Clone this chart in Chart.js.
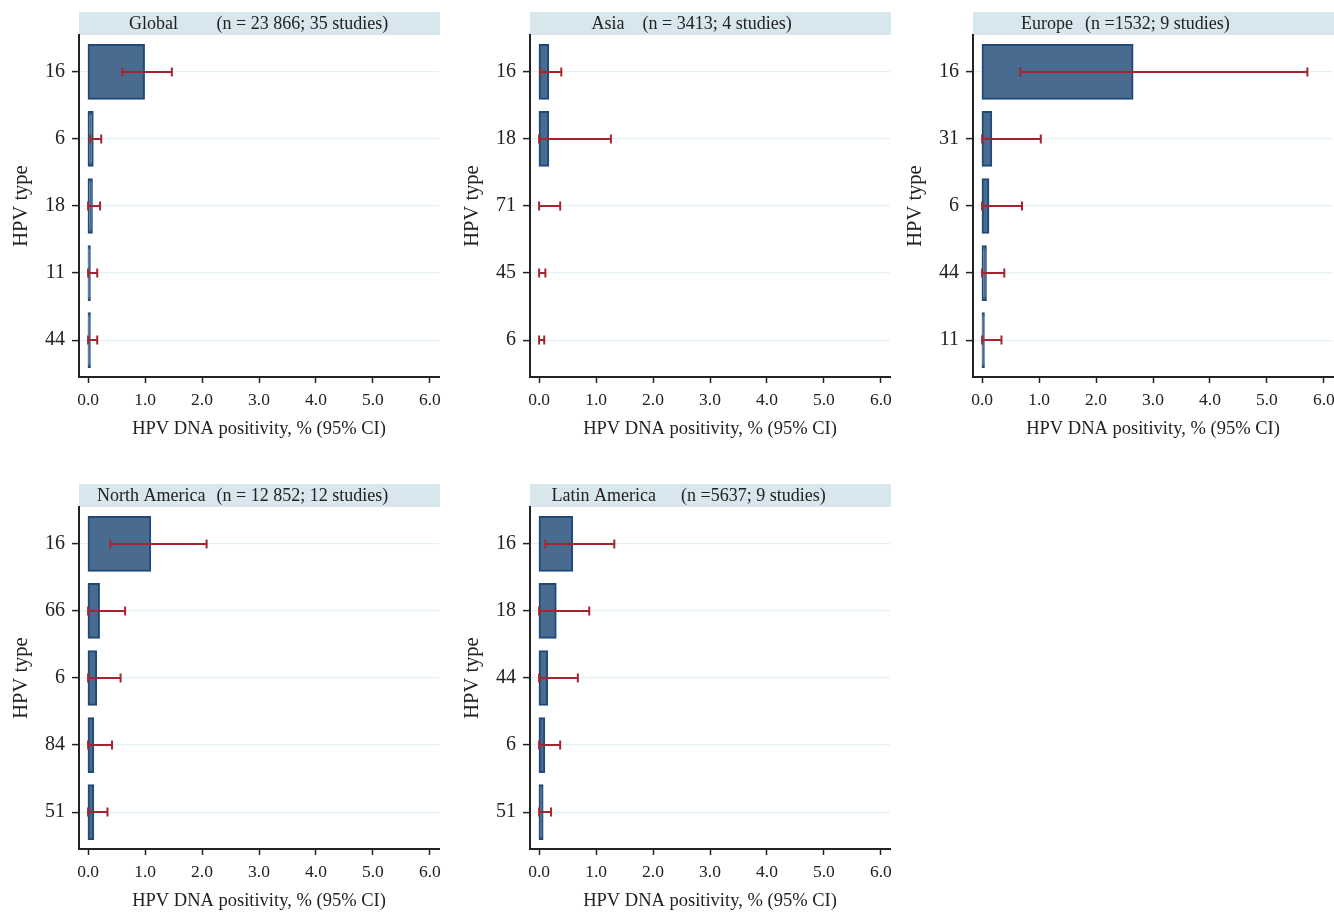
<!DOCTYPE html>
<html><head><meta charset="utf-8">
<script src="https://cdn.jsdelivr.net/npm/chart.js@4.4.1/dist/chart.umd.min.js"></script>
<style>
html,body{margin:0;padding:0;background:#fff;overflow:hidden;width:1334px;height:912px;position:relative}
.p{position:absolute;width:460px;height:440px}
canvas{display:block}
</style></head><body>
<div class="p" id="w0"><canvas id="c0" width="460" height="440"></canvas></div>
<div class="p" id="w1"><canvas id="c1" width="460" height="440"></canvas></div>
<div class="p" id="w2"><canvas id="c2" width="460" height="440"></canvas></div>
<div class="p" id="w3"><canvas id="c3" width="460" height="440"></canvas></div>
<div class="p" id="w4"><canvas id="c4" width="460" height="440"></canvas></div>
<script>
// ---------- data ----------
const xTicks = [0, 1, 2, 3, 4, 5, 6];

const regionNames = ['Global', 'Asia', 'Europe', 'North America', 'Latin America'];
const sampleTexts = ['(n = 23 866; 35 studies)', '(n = 3413; 4 studies)', '(n =1532; 9 studies)', '(n = 12 852; 12 studies)', '(n =5637; 9 studies)'];

const globalTypes  = ['16', '6', '18', '11', '44'];
const globalValues = [0.98, 0.08, 0.065, 0.03, 0.03];
const globalLower  = [0.60, 0.04, 0.00, 0.00, 0.00];
const globalUpper  = [1.47, 0.23, 0.21, 0.16, 0.16];

const asiaTypes  = ['16', '18', '71', '45', '6'];
const asiaValues = [0.16, 0.16, 0, 0, 0];
const asiaLower  = [0.02, 0.00, 0.00, 0.00, 0.00];
const asiaUpper  = [0.39, 1.26, 0.37, 0.11, 0.09];

const europeTypes  = ['16', '31', '6', '44', '11'];
const europeValues = [2.64, 0.16, 0.11, 0.065, 0.03];
const europeLower  = [0.67, 0.00, 0.00, 0.00, 0.00];
const europeUpper  = [5.71, 1.03, 0.70, 0.39, 0.34];

const northAmericaTypes  = ['16', '66', '6', '84', '51'];
const northAmericaValues = [1.09, 0.19, 0.14, 0.09, 0.09];
const northAmericaLower  = [0.39, 0.00, 0.00, 0.00, 0.00];
const northAmericaUpper  = [2.08, 0.65, 0.57, 0.42, 0.34];

const latinAmericaTypes  = ['16', '18', '44', '6', '51'];
const latinAmericaValues = [0.58, 0.29, 0.14, 0.09, 0.06];
const latinAmericaLower  = [0.11, 0.00, 0.00, 0.00, 0.00];
const latinAmericaUpper  = [1.32, 0.88, 0.68, 0.37, 0.21];

// ---------- layout / style ----------
const panels = [
  {types: globalTypes, values: globalValues, lower: globalLower, upper: globalUpper, left: 0, top: 0, regionX: 50, sampleX: 137.5},
  {types: asiaTypes, values: asiaValues, lower: asiaLower, upper: asiaUpper, left: 451, top: 0, regionX: 61.5, sampleX: 112.5},
  {types: europeTypes, values: europeValues, lower: europeLower, upper: europeUpper, left: 894, top: 0, regionX: 48, sampleX: 112},
  {types: northAmericaTypes, values: northAmericaValues, lower: northAmericaLower, upper: northAmericaUpper, left: 0, top: 472, regionX: 18, sampleX: 137.5},
  {types: latinAmericaTypes, values: latinAmericaValues, lower: latinAmericaLower, upper: latinAmericaUpper, left: 451, top: 472, regionX: 21.5, sampleX: 151}
];

const FONT = "'Liberation Serif', 'Times New Roman', serif";
const INK = '#222222';
Chart.defaults.font.family = FONT;
Chart.defaults.color = INK;

const stripPlugin = {
  id: 'strip',
  beforeDraw(chart, args, o) {
    const {ctx, chartArea: a} = chart;
    ctx.save();
    ctx.fillStyle = '#d8e6ee';
    ctx.fillRect(a.left, o.top, a.right - a.left + 1, o.height);
    ctx.fillStyle = INK;
    ctx.font = '18px ' + FONT;
    ctx.textBaseline = 'middle';
    ctx.textAlign = 'left';
    const yy = o.top + o.height / 2 + 0.5;
    ctx.fillText(o.region, a.left + o.regionX, yy);
    ctx.fillText(o.sample, a.left + o.sampleX, yy);
    ctx.restore();
  }
};

const errorBarPlugin = {
  id: 'errorBars',
  afterDatasetsDraw(chart, args, o) {
    const {ctx} = chart;
    const xs = chart.scales.x, ys = chart.scales.y;
    ctx.save();
    ctx.strokeStyle = '#a3262e';
    ctx.lineWidth = 2;
    o.lower.forEach((lo, i) => {
      const yp = ys.getPixelForValue(i);
      const x1 = xs.getPixelForValue(lo);
      const x2 = xs.getPixelForValue(o.upper[i]);
      ctx.beginPath();
      ctx.moveTo(x1, yp); ctx.lineTo(x2, yp);
      ctx.moveTo(x1, yp - 4.5); ctx.lineTo(x1, yp + 4.5);
      ctx.moveTo(x2, yp - 4.5); ctx.lineTo(x2, yp + 4.5);
      ctx.stroke();
    });
    ctx.restore();
  }
};

panels.forEach((p, k) => {
  const wrap = document.getElementById('w' + k);
  wrap.style.left = p.left + 'px';
  wrap.style.top = p.top + 'px';
  new Chart(document.getElementById('c' + k), {
    type: 'bar',
    data: {
      datasets: [{
        data: p.values.map((v, i) => ({x: v, y: i})),
        backgroundColor: '#486b8f',
        borderColor: '#1f4a78',
        borderWidth: 2,
        borderSkipped: false,
        inflateAmount: c => (c.raw && c.raw.x > 0 ? 1 : 0),
        categoryPercentage: 0.8,
        barPercentage: 1.0
      }]
    },
    options: {
      indexAxis: 'y',
      responsive: false,
      animation: false,
      events: [],
      layout: {padding: {top: 35, right: 21, left: 0, bottom: 0}},
      plugins: {
        legend: {display: false},
        tooltip: {enabled: false},
        strip: {top: 12, height: 23, region: regionNames[k], sample: sampleTexts[k], regionX: p.regionX, sampleX: p.sampleX},
        errorBars: {lower: p.lower, upper: p.upper}
      },
      scales: {
        y: {
          type: 'linear',
          reverse: true,
          offset: false,
          min: -0.55,
          max: 4.55,
          afterBuildTicks: s => { s.ticks = p.types.map((_, i) => ({value: i})); },
          afterFit: s => { s.width = 79; },
          ticks: {
            callback: v => p.types[v],
            font: {size: 20, family: FONT},
            color: INK,
            padding: 7,
            autoSkip: false
          },
          grid: {offset: false, color: '#e4f1f3', lineWidth: 1.2, tickColor: INK, tickLength: 7, tickWidth: 1.5},
          border: {display: true, color: INK, width: 2},
          title: {display: true, text: 'HPV type', font: {size: 20.5, family: FONT}, color: INK, padding: {top: 9, bottom: 0}}
        },
        x: {
          type: 'linear',
          min: -0.16,
          max: 6.16,
          afterBuildTicks: s => { s.ticks = xTicks.map(v => ({value: v})); },
          afterFit: s => { s.height = 63; },
          ticks: {
            callback: v => Number(v).toFixed(1),
            font: {size: 17.5, family: FONT},
            color: INK,
            padding: 6.5,
            maxRotation: 0,
            autoSkip: false
          },
          grid: {drawOnChartArea: false, tickColor: INK, tickLength: 6, tickWidth: 1.5},
          border: {display: true, color: INK, width: 2},
          title: {display: true, text: 'HPV DNA positivity, % (95% CI)', font: {size: 18.5, family: FONT}, color: INK, padding: {top: 0, bottom: 0}}
        }
      }
    },
    plugins: [stripPlugin, errorBarPlugin]
  });
});
</script>
</body></html>
